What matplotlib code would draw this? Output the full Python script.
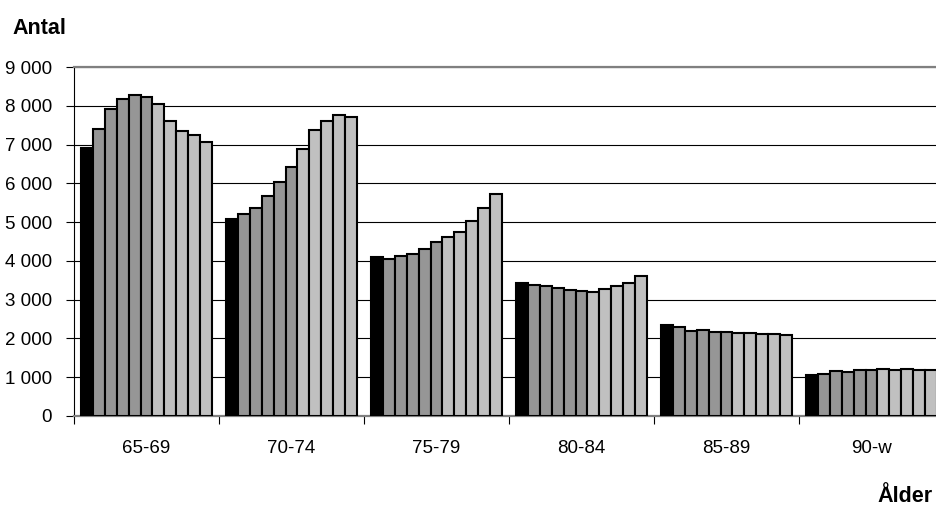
import numpy as np
import matplotlib.pyplot as plt

plt.rcParams['font.family'] = ['Liberation Sans', 'DejaVu Sans']

# age groups and the 11 bars (series) for each
groups = ['65-69', '70-74', '75-79', '80-84', '85-89', '90-w']
g65 = [6900, 7390, 7920, 8170, 8290, 8230, 8050, 7620, 7360, 7250, 7070]
g70 = [5090, 5220, 5370, 5670, 6040, 6410, 6890, 7380, 7620, 7750, 7700]
g75 = [4110, 4060, 4130, 4170, 4300, 4490, 4620, 4750, 5030, 5360, 5720]
g80 = [3440, 3390, 3350, 3310, 3250, 3220, 3190, 3270, 3340, 3440, 3600]
g85 = [2340, 2300, 2200, 2210, 2170, 2160, 2130, 2130, 2110, 2110, 2100]
g90 = [1050, 1090, 1160, 1140, 1190, 1180, 1200, 1190, 1200, 1190, 1190]
colors = ['#000000'] + ['#969696'] * 5 + ['#c0c0c0'] * 5

vals = np.array([g65, g70, g75, g80, g85, g90])
nser = vals.shape[1]

fig = plt.figure(figsize=(9.36, 5.13), dpi=100)
ax = fig.add_axes([74/936, 1-416/513, 870/936, 349/513])

x = np.arange(len(groups))
w = 0.8966 / nser
for j in range(nser):
    ax.bar(x - 0.4483 + w*(j+0.5), vals[:, j], width=w, color=colors[j],
           edgecolor='black', linewidth=1.5, zorder=3)

ax.set_xlim(-0.5, len(groups)-0.5)
ax.set_ylim(0, 9000)
yt = np.arange(0, 9001, 1000)
ax.set_yticks(yt)
ax.set_yticklabels([f'{v:,}'.replace(',', ' ') for v in yt])
ax.yaxis.grid(True, color='black', linewidth=0.8, zorder=0)
ax.set_xticks(x)
ax.set_xticklabels(groups)
ax.set_xticks(np.arange(-0.5, len(groups)), minor=True)
ax.tick_params(axis='x', which='major', length=0, pad=17, labelsize=13.5)
ax.tick_params(axis='x', which='minor', length=6, width=0.8, color='black')
ax.tick_params(axis='y', length=6, width=0.8, pad=10, labelsize=13.5)

for s in ['top', 'bottom']:
    ax.spines[s].set_color('#808080')
    ax.spines[s].set_linewidth(1.6)
ax.spines['right'].set_visible(False)
ax.spines['left'].set_color('black')
ax.spines['left'].set_linewidth(0.8)

fig.text(12/936, 1-28/513, 'Antal', fontsize=15.5, fontweight='bold', va='center', ha='left')
fig.text(933/936, 1-497/513, 'Ålder', fontsize=15.5, fontweight='bold', va='center', ha='right')

fig.savefig('out.png', dpi=100)
